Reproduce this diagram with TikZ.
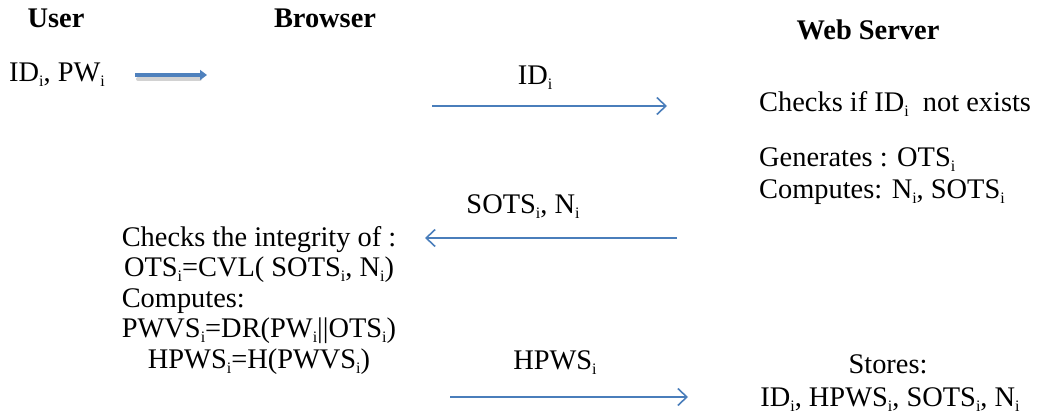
\documentclass[tikz,border=0pt]{standalone}
\usepackage{fontspec}
\setmainfont{Liberation Serif}
\usetikzlibrary{arrows.meta}
\definecolor{arrowblue}{HTML}{4A7EBB}
\definecolor{thickblue}{HTML}{4F81BD}
\newcommand{\sbi}{\raisebox{-0.18em}{\fontsize{16}{16}\selectfont i}}
\begin{document}
\begin{tikzpicture}[x=1pt,y=-1pt,
  every node/.style={inner sep=0pt, font=\fontsize{28.4}{30.5}\selectfont},
  head/.style={font=\fontsize{28.4}{30}\selectfont\bfseries},
  msg/.style={draw=arrowblue, line width=1.6pt, -{Straight Barb[length=9pt,width=17pt,line width=1.6pt]}},
  big/.style={draw=thickblue, line width=4.5pt, -{Triangle[length=7pt,width=10pt]}}
]
\useasboundingbox (0,0) rectangle (1038,419);
% headers
\node[head] (user) at (56,18) {User};
\node[head] (browser) at (325,18) {Browser};
\node[head] (server) at (868,30) {Web Server};
% user input
\node[anchor=west] (cred) at (9,75) {ID\sbi, PW\sbi};
\coordinate (ua) at (135,75);
\coordinate (ub) at (207,75);
\draw[gray!35, line width=4pt, line cap=round] (138,79) -- (200,79);
\draw[big] (ua) -- (ub);
% message 1
\node (m1) at (535,78) {ID\sbi};
\coordinate (a1s) at (432,106);
\coordinate (a1e) at (667,106);
\draw[msg] (a1s) -- (a1e);
\node[anchor=west] (chk) at (759,104) {Checks if ID\sbi{}\ \ not exists};
\node[anchor=west] (gen) at (759,160) {Generates : OTS\sbi};
\node[anchor=west] (cmp) at (759,192) {Computes: N\sbi, SOTS\sbi};
% message 2
\node (m2) at (523,207) {SOTS\sbi, N\sbi};
\coordinate (a2s) at (677,238);
\coordinate (a2e) at (425,238);
\draw[msg] (a2s) -- (a2e);
\node (blk) at (259,301) {\begin{tabular}{@{}c@{}}
Checks the integrity of :\\
OTS\sbi=CVL( SOTS\sbi, N\sbi)\\
\multicolumn{1}{@{}l@{}}{Computes:}\\
PWVS\sbi=DR(PW\sbi||OTS\sbi)\\
HPWS\sbi=H(PWVS\sbi)
\end{tabular}};
% message 3
\node (m3) at (555,363) {HPWS\sbi};
\coordinate (a3s) at (450,397);
\coordinate (a3e) at (688,397);
\draw[msg] (a3s) -- (a3e);
\node (st1) at (888,364) {Stores:};
\node (st2) at (890,400) {ID\sbi, HPWS\sbi, SOTS\sbi, N\sbi};
\end{tikzpicture}
\end{document}
